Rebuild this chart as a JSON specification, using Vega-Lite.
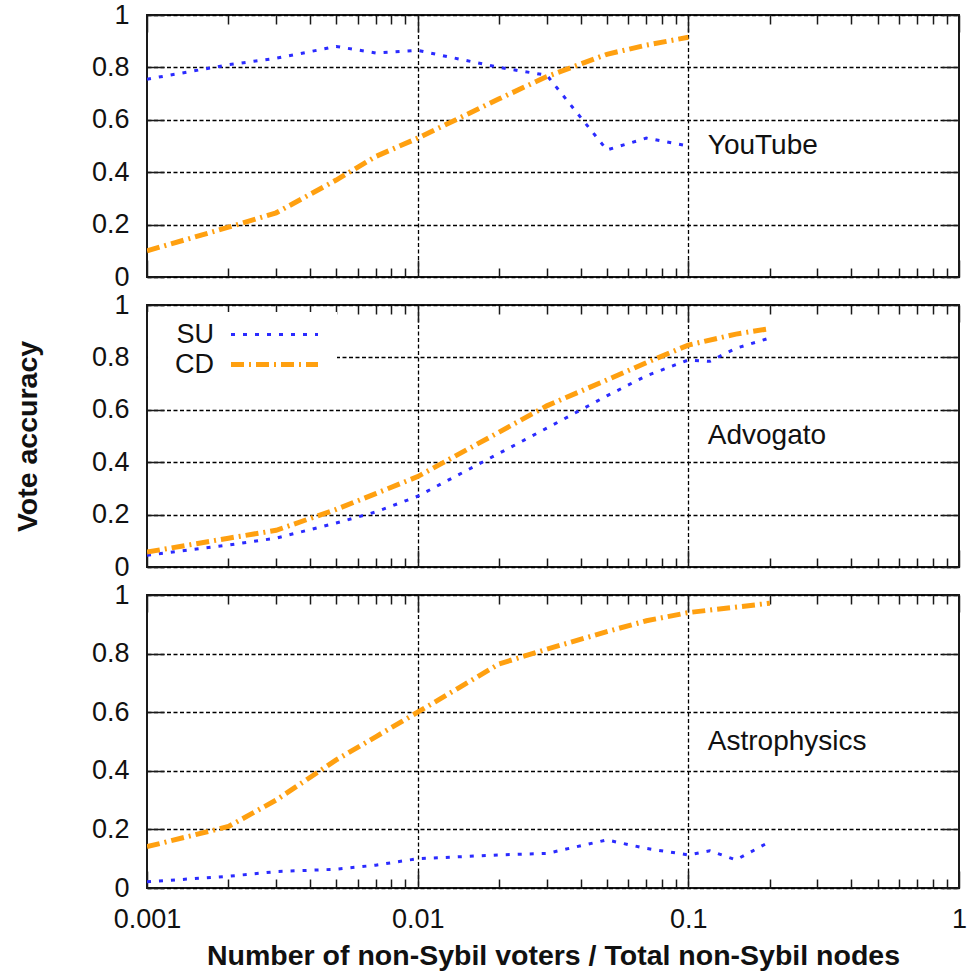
{
  "$schema": "https://vega.github.io/schema/vega-lite/v6.json",
  "padding": {"left": 12, "top": 0, "right": 0, "bottom": 0},
  "background": "white",
  "datasets": {
    "accuracy": [
      {"panel": "YouTube", "series": "SU", "x": 0.001, "y": 0.755},
      {"panel": "YouTube", "series": "SU", "x": 0.002, "y": 0.81},
      {"panel": "YouTube", "series": "SU", "x": 0.003, "y": 0.835},
      {"panel": "YouTube", "series": "SU", "x": 0.004, "y": 0.86},
      {"panel": "YouTube", "series": "SU", "x": 0.005, "y": 0.88},
      {"panel": "YouTube", "series": "SU", "x": 0.007, "y": 0.855},
      {"panel": "YouTube", "series": "SU", "x": 0.01, "y": 0.865},
      {"panel": "YouTube", "series": "SU", "x": 0.02, "y": 0.8},
      {"panel": "YouTube", "series": "SU", "x": 0.03, "y": 0.77},
      {"panel": "YouTube", "series": "SU", "x": 0.05, "y": 0.485},
      {"panel": "YouTube", "series": "SU", "x": 0.07, "y": 0.53},
      {"panel": "YouTube", "series": "SU", "x": 0.1, "y": 0.5},
      {"panel": "YouTube", "series": "CD", "x": 0.001, "y": 0.1},
      {"panel": "YouTube", "series": "CD", "x": 0.002, "y": 0.19},
      {"panel": "YouTube", "series": "CD", "x": 0.003, "y": 0.245},
      {"panel": "YouTube", "series": "CD", "x": 0.005, "y": 0.37},
      {"panel": "YouTube", "series": "CD", "x": 0.007, "y": 0.46},
      {"panel": "YouTube", "series": "CD", "x": 0.01, "y": 0.53},
      {"panel": "YouTube", "series": "CD", "x": 0.02, "y": 0.68},
      {"panel": "YouTube", "series": "CD", "x": 0.03, "y": 0.765},
      {"panel": "YouTube", "series": "CD", "x": 0.05, "y": 0.85},
      {"panel": "YouTube", "series": "CD", "x": 0.07, "y": 0.885},
      {"panel": "YouTube", "series": "CD", "x": 0.1, "y": 0.915},
      {"panel": "Advogato", "series": "SU", "x": 0.001, "y": 0.045},
      {"panel": "Advogato", "series": "SU", "x": 0.002, "y": 0.084},
      {"panel": "Advogato", "series": "SU", "x": 0.003, "y": 0.11},
      {"panel": "Advogato", "series": "SU", "x": 0.005, "y": 0.168},
      {"panel": "Advogato", "series": "SU", "x": 0.007, "y": 0.21},
      {"panel": "Advogato", "series": "SU", "x": 0.01, "y": 0.27},
      {"panel": "Advogato", "series": "SU", "x": 0.02, "y": 0.434},
      {"panel": "Advogato", "series": "SU", "x": 0.03, "y": 0.53},
      {"panel": "Advogato", "series": "SU", "x": 0.05, "y": 0.653},
      {"panel": "Advogato", "series": "SU", "x": 0.07, "y": 0.73},
      {"panel": "Advogato", "series": "SU", "x": 0.1, "y": 0.79},
      {"panel": "Advogato", "series": "SU", "x": 0.12, "y": 0.785},
      {"panel": "Advogato", "series": "SU", "x": 0.15, "y": 0.835},
      {"panel": "Advogato", "series": "SU", "x": 0.2, "y": 0.874},
      {"panel": "Advogato", "series": "CD", "x": 0.001, "y": 0.057},
      {"panel": "Advogato", "series": "CD", "x": 0.002, "y": 0.11},
      {"panel": "Advogato", "series": "CD", "x": 0.003, "y": 0.14},
      {"panel": "Advogato", "series": "CD", "x": 0.005, "y": 0.22},
      {"panel": "Advogato", "series": "CD", "x": 0.007, "y": 0.28},
      {"panel": "Advogato", "series": "CD", "x": 0.01, "y": 0.345},
      {"panel": "Advogato", "series": "CD", "x": 0.02, "y": 0.515},
      {"panel": "Advogato", "series": "CD", "x": 0.03, "y": 0.615},
      {"panel": "Advogato", "series": "CD", "x": 0.05, "y": 0.714},
      {"panel": "Advogato", "series": "CD", "x": 0.07, "y": 0.78},
      {"panel": "Advogato", "series": "CD", "x": 0.1, "y": 0.847},
      {"panel": "Advogato", "series": "CD", "x": 0.15, "y": 0.889},
      {"panel": "Advogato", "series": "CD", "x": 0.2, "y": 0.91},
      {"panel": "Astrophysics", "series": "SU", "x": 0.001, "y": 0.021},
      {"panel": "Astrophysics", "series": "SU", "x": 0.002, "y": 0.04},
      {"panel": "Astrophysics", "series": "SU", "x": 0.003, "y": 0.056},
      {"panel": "Astrophysics", "series": "SU", "x": 0.005, "y": 0.064},
      {"panel": "Astrophysics", "series": "SU", "x": 0.007, "y": 0.078},
      {"panel": "Astrophysics", "series": "SU", "x": 0.01, "y": 0.1},
      {"panel": "Astrophysics", "series": "SU", "x": 0.02, "y": 0.113},
      {"panel": "Astrophysics", "series": "SU", "x": 0.03, "y": 0.118},
      {"panel": "Astrophysics", "series": "SU", "x": 0.05, "y": 0.164},
      {"panel": "Astrophysics", "series": "SU", "x": 0.07, "y": 0.135},
      {"panel": "Astrophysics", "series": "SU", "x": 0.1, "y": 0.113},
      {"panel": "Astrophysics", "series": "SU", "x": 0.12, "y": 0.127},
      {"panel": "Astrophysics", "series": "SU", "x": 0.15, "y": 0.096},
      {"panel": "Astrophysics", "series": "SU", "x": 0.2, "y": 0.158},
      {"panel": "Astrophysics", "series": "CD", "x": 0.001, "y": 0.141},
      {"panel": "Astrophysics", "series": "CD", "x": 0.002, "y": 0.21},
      {"panel": "Astrophysics", "series": "CD", "x": 0.003, "y": 0.3},
      {"panel": "Astrophysics", "series": "CD", "x": 0.005, "y": 0.437},
      {"panel": "Astrophysics", "series": "CD", "x": 0.007, "y": 0.516},
      {"panel": "Astrophysics", "series": "CD", "x": 0.01, "y": 0.6},
      {"panel": "Astrophysics", "series": "CD", "x": 0.02, "y": 0.765},
      {"panel": "Astrophysics", "series": "CD", "x": 0.03, "y": 0.815},
      {"panel": "Astrophysics", "series": "CD", "x": 0.05, "y": 0.875},
      {"panel": "Astrophysics", "series": "CD", "x": 0.07, "y": 0.912},
      {"panel": "Astrophysics", "series": "CD", "x": 0.1, "y": 0.94},
      {"panel": "Astrophysics", "series": "CD", "x": 0.2, "y": 0.972}
    ]
  },
  "vconcat": [
    {
      "width": 812,
      "height": 262,
      "layer": [
        {
          "data": {"name": "accuracy"},
          "transform": [{"filter": "datum.panel === 'YouTube'"}],
          "mark": {"type": "line", "clip": true},
          "encoding": {
            "x": {
              "field": "x", "type": "quantitative",
              "scale": {"type": "log", "domain": [0.001, 1], "nice": false},
              "axis": {
                "orient": "bottom", "title": null, "labels": false,
                "values": [0.001, 0.002, 0.003, 0.004, 0.005, 0.006, 0.007, 0.008, 0.009, 0.01, 0.02, 0.03, 0.04, 0.05, 0.06, 0.07, 0.08, 0.09, 0.1, 0.2, 0.3, 0.4, 0.5, 0.6, 0.7, 0.8, 0.9, 1],
                "tickSize": {"condition": {"test": "datum.value == 0.001 || datum.value == 0.01 || datum.value == 0.1 || datum.value == 1", "value": -17}, "value": -9},
                "grid": true,
                "gridOpacity": {"condition": {"test": "datum.value == 0.01 || datum.value == 0.1", "value": 1}, "value": 0}
              }
            },
            "y": {
              "field": "y", "type": "quantitative",
              "scale": {"domain": [0, 1], "nice": false},
              "axis": {
                "orient": "left", "title": null, "values": [0, 0.2, 0.4, 0.6, 0.8, 1],
                "format": "~g", "tickSize": -17, "labelPadding": 35, "grid": true
              }
            },
            "color": {"field": "series", "type": "nominal", "scale": {"domain": ["SU", "CD"], "range": ["#2b2bff", "#ffa010"]}, "legend": null},
            "strokeDash": {"field": "series", "type": "nominal", "scale": {"domain": ["SU", "CD"], "range": [[4, 8], [13, 5, 2, 5]]}, "legend": null},
            "strokeWidth": {"field": "series", "type": "nominal", "scale": {"type": "point", "domain": ["SU", "CD"], "range": [3, 5], "padding": 0}, "legend": null}
          }
        },
        {
          "data": {"values": [{"name": "YouTube"}]},
          "mark": {"type": "text", "align": "left", "baseline": "middle", "fontSize": 28, "color": "#111"},
          "encoding": {
            "x": {
              "datum": 0.118, "type": "quantitative",
              "axis": {
                "orient": "top", "title": null, "labels": false, "grid": false,
                "values": [0.001, 0.002, 0.003, 0.004, 0.005, 0.006, 0.007, 0.008, 0.009, 0.01, 0.02, 0.03, 0.04, 0.05, 0.06, 0.07, 0.08, 0.09, 0.1, 0.2, 0.3, 0.4, 0.5, 0.6, 0.7, 0.8, 0.9, 1],
                "tickSize": {"condition": {"test": "datum.value == 0.001 || datum.value == 0.01 || datum.value == 0.1 || datum.value == 1", "value": -17}, "value": -9}
              }
            },
            "y": {
              "datum": 0.5, "type": "quantitative",
              "axis": {"orient": "right", "title": null, "labels": false, "grid": false, "values": [0, 0.2, 0.4, 0.6, 0.8, 1], "tickSize": -17}
            },
            "text": {"field": "name"}
          }
        }
      ],
      "resolve": {"axis": {"x": "independent", "y": "independent"}}
    },
    {
      "width": 812,
      "height": 262,
      "layer": [
        {
          "data": {"name": "accuracy"},
          "transform": [{"filter": "datum.panel === 'Advogato'"}],
          "mark": {"type": "line", "clip": true},
          "encoding": {
            "x": {
              "field": "x", "type": "quantitative",
              "scale": {"type": "log", "domain": [0.001, 1], "nice": false},
              "axis": {
                "orient": "bottom", "title": null, "labels": false,
                "values": [0.001, 0.002, 0.003, 0.004, 0.005, 0.006, 0.007, 0.008, 0.009, 0.01, 0.02, 0.03, 0.04, 0.05, 0.06, 0.07, 0.08, 0.09, 0.1, 0.2, 0.3, 0.4, 0.5, 0.6, 0.7, 0.8, 0.9, 1],
                "tickSize": {"condition": {"test": "datum.value == 0.001 || datum.value == 0.01 || datum.value == 0.1 || datum.value == 1", "value": -17}, "value": -9},
                "grid": true,
                "gridOpacity": {"condition": {"test": "datum.value == 0.01 || datum.value == 0.1", "value": 1}, "value": 0}
              }
            },
            "y": {
              "field": "y", "type": "quantitative",
              "scale": {"domain": [0, 1], "nice": false},
              "axis": {
                "orient": "left", "title": "Vote accuracy", "values": [0, 0.2, 0.4, 0.6, 0.8, 1],
                "format": "~g", "tickSize": -17, "labelPadding": 35, "grid": true, "titlePadding": 49
              }
            },
            "color": {
              "field": "series", "type": "nominal",
              "scale": {"domain": ["SU", "CD"], "range": ["#2b2bff", "#ffa010"]},
              "legend": {"orient": "none", "legendX": 1, "legendY": 7, "direction": "vertical", "title": null, "symbolType": "M-4,0H4", "symbolSize": 473, "symbolOffset": 104, "labelOffset": -74, "labelAlign": "right", "rowPadding": 2, "padding": 9, "fillColor": "white"}
            },
            "strokeDash": {
              "field": "series", "type": "nominal",
              "scale": {"domain": ["SU", "CD"], "range": [[4, 8], [13, 5, 2, 5]]},
              "legend": {"orient": "none", "legendX": 1, "legendY": 7, "direction": "vertical", "title": null, "symbolType": "M-4,0H4", "symbolSize": 473, "symbolOffset": 104, "labelOffset": -74, "labelAlign": "right", "rowPadding": 2, "padding": 9, "fillColor": "white"}
            },
            "strokeWidth": {
              "field": "series", "type": "nominal",
              "scale": {"type": "point", "domain": ["SU", "CD"], "range": [3, 5], "padding": 0},
              "legend": {"orient": "none", "legendX": 1, "legendY": 7, "direction": "vertical", "title": null, "symbolType": "M-4,0H4", "symbolSize": 473, "symbolOffset": 104, "labelOffset": -74, "labelAlign": "right", "rowPadding": 2, "padding": 9, "fillColor": "white"}
            }
          }
        },
        {
          "data": {"values": [{"name": "Advogato"}]},
          "mark": {"type": "text", "align": "left", "baseline": "middle", "fontSize": 28, "color": "#111"},
          "encoding": {
            "x": {
              "datum": 0.118, "type": "quantitative",
              "axis": {
                "orient": "top", "title": null, "labels": false, "grid": false,
                "values": [0.001, 0.002, 0.003, 0.004, 0.005, 0.006, 0.007, 0.008, 0.009, 0.01, 0.02, 0.03, 0.04, 0.05, 0.06, 0.07, 0.08, 0.09, 0.1, 0.2, 0.3, 0.4, 0.5, 0.6, 0.7, 0.8, 0.9, 1],
                "tickSize": {"condition": {"test": "datum.value == 0.001 || datum.value == 0.01 || datum.value == 0.1 || datum.value == 1", "value": -17}, "value": -9}
              }
            },
            "y": {
              "datum": 0.5, "type": "quantitative",
              "axis": {"orient": "right", "title": null, "labels": false, "grid": false, "values": [0, 0.2, 0.4, 0.6, 0.8, 1], "tickSize": -17}
            },
            "text": {"field": "name"}
          }
        }
      ],
      "resolve": {"axis": {"x": "independent", "y": "independent"}}
    },
    {
      "width": 812,
      "height": 293,
      "layer": [
        {
          "data": {"name": "accuracy"},
          "transform": [{"filter": "datum.panel === 'Astrophysics'"}],
          "mark": {"type": "line", "clip": true},
          "encoding": {
            "x": {
              "field": "x", "type": "quantitative",
              "scale": {"type": "log", "domain": [0.001, 1], "nice": false},
              "axis": {
                "orient": "bottom", "title": "Number of non-Sybil voters / Total non-Sybil nodes",
                "values": [0.001, 0.002, 0.003, 0.004, 0.005, 0.006, 0.007, 0.008, 0.009, 0.01, 0.02, 0.03, 0.04, 0.05, 0.06, 0.07, 0.08, 0.09, 0.1, 0.2, 0.3, 0.4, 0.5, 0.6, 0.7, 0.8, 0.9, 1],
                "format": "~g",
                "labelExpr": "datum.value == 0.001 || datum.value == 0.01 || datum.value == 0.1 || datum.value == 1 ? datum.label : ''",
                "labelPadding": 35,
                "titlePadding": 1,
                "tickSize": {"condition": {"test": "datum.value == 0.001 || datum.value == 0.01 || datum.value == 0.1 || datum.value == 1", "value": -17}, "value": -9},
                "grid": true,
                "gridOpacity": {"condition": {"test": "datum.value == 0.01 || datum.value == 0.1", "value": 1}, "value": 0}
              }
            },
            "y": {
              "field": "y", "type": "quantitative",
              "scale": {"domain": [0, 1], "nice": false},
              "axis": {
                "orient": "left", "title": null, "values": [0, 0.2, 0.4, 0.6, 0.8, 1],
                "format": "~g", "tickSize": -17, "labelPadding": 35, "grid": true
              }
            },
            "color": {"field": "series", "type": "nominal", "scale": {"domain": ["SU", "CD"], "range": ["#2b2bff", "#ffa010"]}, "legend": null},
            "strokeDash": {"field": "series", "type": "nominal", "scale": {"domain": ["SU", "CD"], "range": [[4, 8], [13, 5, 2, 5]]}, "legend": null},
            "strokeWidth": {"field": "series", "type": "nominal", "scale": {"type": "point", "domain": ["SU", "CD"], "range": [3, 5], "padding": 0}, "legend": null}
          }
        },
        {
          "data": {"values": [{"name": "Astrophysics"}]},
          "mark": {"type": "text", "align": "left", "baseline": "middle", "fontSize": 28, "color": "#111"},
          "encoding": {
            "x": {
              "datum": 0.118, "type": "quantitative",
              "axis": {
                "orient": "top", "title": null, "labels": false, "grid": false,
                "values": [0.001, 0.002, 0.003, 0.004, 0.005, 0.006, 0.007, 0.008, 0.009, 0.01, 0.02, 0.03, 0.04, 0.05, 0.06, 0.07, 0.08, 0.09, 0.1, 0.2, 0.3, 0.4, 0.5, 0.6, 0.7, 0.8, 0.9, 1],
                "tickSize": {"condition": {"test": "datum.value == 0.001 || datum.value == 0.01 || datum.value == 0.1 || datum.value == 1", "value": -17}, "value": -9}
              }
            },
            "y": {
              "datum": 0.5, "type": "quantitative",
              "axis": {"orient": "right", "title": null, "labels": false, "grid": false, "values": [0, 0.2, 0.4, 0.6, 0.8, 1], "tickSize": -17}
            },
            "text": {"field": "name"}
          }
        }
      ],
      "resolve": {"axis": {"x": "independent", "y": "independent"}}
    }
  ],
  "spacing": 28,
  "bounds": "flush",
  "resolve": {
    "scale": {"color": "independent", "strokeDash": "independent", "strokeWidth": "independent"},
    "legend": {"color": "independent", "strokeDash": "independent", "strokeWidth": "independent"}
  },
  "config": {
    "font": "Liberation Sans",
    "view": {"stroke": "#1a1a1a", "strokeWidth": 2},
    "text": {"font": "Liberation Sans"},
    "axis": {
      "labelFont": "Liberation Sans", "labelFontSize": 27, "labelColor": "#111",
      "titleFont": "Liberation Sans", "titleFontSize": 28.5, "titleFontWeight": "bold", "titleColor": "#111",
      "tickColor": "#1a1a1a", "tickWidth": 1.5, "domain": false,
      "gridColor": "#000", "gridDash": [4, 2.5], "gridWidth": 1.3,
      "labelFlush": false, "labelOverlap": false
    },
    "legend": {"labelFont": "Liberation Sans", "labelFontSize": 27, "labelColor": "#111", "strokeColor": null}
  }
}
